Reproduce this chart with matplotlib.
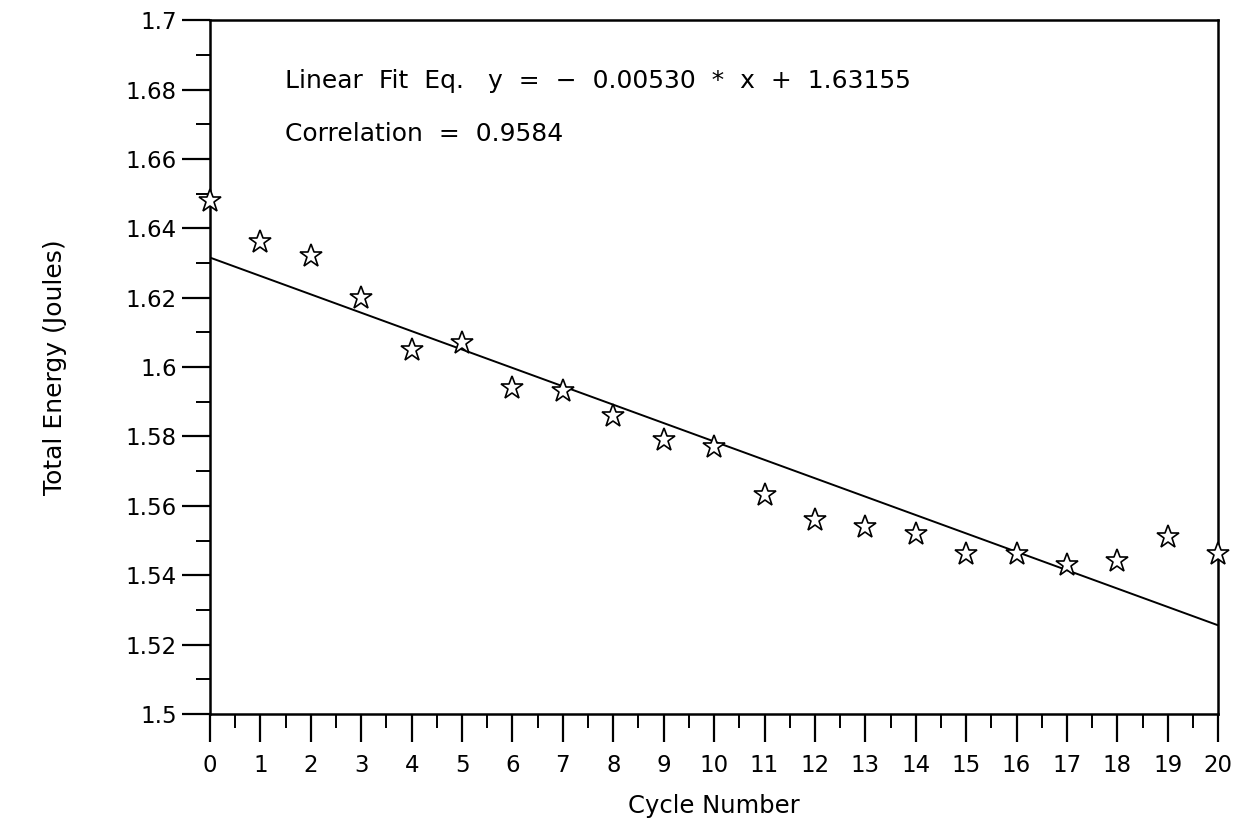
import matplotlib.pyplot as plt
from matplotlib.ticker import MultipleLocator, FormatStrFormatter
import numpy as np

cycle = [0, 1, 2, 3, 4, 5, 6, 7, 8, 9, 10, 11, 12, 13, 14, 15, 16, 17, 18, 19, 20]
energy = [1.648, 1.636, 1.632, 1.620, 1.605, 1.607, 1.594, 1.593, 1.586, 1.579,
          1.577, 1.563, 1.556, 1.554, 1.552, 1.546, 1.546, 1.543, 1.544, 1.551, 1.546]
slope = -0.00530
intercept = 1.63155
corr = 0.9584

plt.rcParams['font.family'] = ['DejaVu Sans']
fig = plt.figure(figsize=(12.43, 8.23), dpi=100)
ax = fig.add_axes([0.169, 0.1325, 0.811, 0.843])

xs = np.array([cycle[0], cycle[-1]])
ax.plot(xs, slope * xs + intercept, c='black', lw=1.4)
ax.plot(cycle, energy, '*', ms=17, mfc='white', mec='black', mew=1.2,
        clip_on=False, zorder=5)

ax.set_xlim(0, 20)
ax.set_ylim(1.5, 1.7)
ax.xaxis.set_major_locator(MultipleLocator(1))
ax.xaxis.set_minor_locator(MultipleLocator(0.5))
ax.yaxis.set_major_locator(MultipleLocator(0.02))
ax.yaxis.set_minor_locator(MultipleLocator(0.01))
ax.yaxis.set_major_formatter(FormatStrFormatter('%g'))
ax.tick_params(which='major', direction='out', length=20, width=1.6,
               labelsize=16.5, top=False, right=False)
ax.tick_params(which='minor', direction='out', length=10, width=1.4,
               top=False, right=False)
ax.tick_params(axis='y', which='major', pad=4)
ax.tick_params(axis='x', which='major', pad=9)
for s in ax.spines.values():
    s.set_linewidth(1.8)

txt = dict(transform=ax.transAxes, fontsize=18, va='center', ha='left')
ax.text(0.074, 0.912, 'Linear  Fit  Eq.   y  =  \u2212  %.5f  *  x  +  %.5f' % (-slope, intercept), **txt)
ax.text(0.074, 0.836, 'Correlation  =  %.4f' % corr, **txt)

ax.set_xlabel('Cycle Number', fontsize=17.5, labelpad=12)
ax.set_ylabel('Total Energy (Joules)', fontsize=18, labelpad=42)

fig.savefig('out.png', dpi=100)
